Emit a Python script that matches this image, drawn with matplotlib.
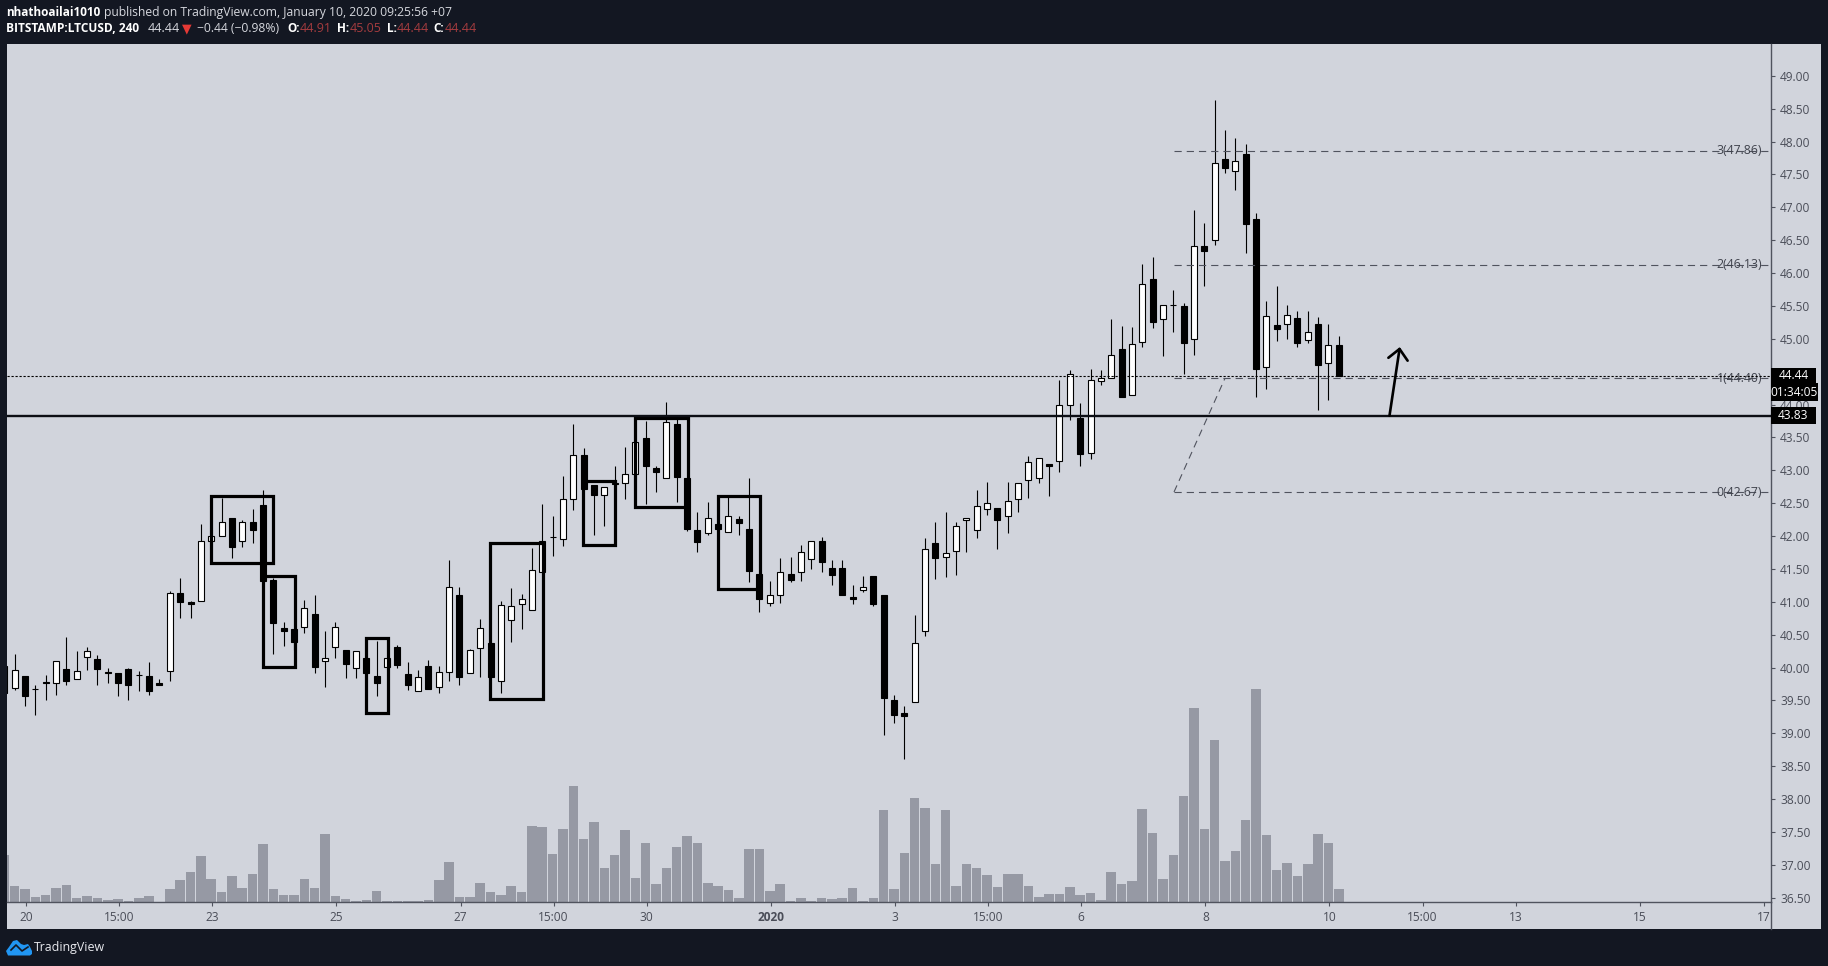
import numpy as np
import matplotlib
matplotlib.use("Agg")
import matplotlib.pyplot as plt
from matplotlib.patches import Rectangle, Polygon

plt.rcParams['font.family'] = ['Open Sans', 'DejaVu Sans']

# 4h candles, first entry is the bar two slots before Dec 20
first_bar = -2
opens = [40.02, 39.69, 39.87, 39.67, 39.78, 39.76, 39.98, 39.82, 40.16, 40.13,
         39.93, 39.92, 39.98, 39.89, 39.87, 39.77, 39.94, 41.13, 41.00, 41.01,
         41.92, 42.00, 42.28, 41.92, 42.21, 42.47, 41.33, 40.60, 40.59, 40.61,
         40.82, 40.10, 40.32, 40.26, 40.00, 40.14, 39.87, 40.01, 40.31, 39.90,
         39.64, 40.02, 39.71, 39.93, 41.10, 39.91, 40.29, 40.37, 39.79, 40.73,
         40.96, 40.88, 41.46, 41.98, 41.95, 42.57, 43.24, 42.77, 42.62, 42.81,
         42.80, 42.94, 43.49, 43.03, 42.88, 43.70, 42.88, 42.09, 42.05, 42.18,
         42.06, 42.26, 42.10, 41.42, 40.98, 41.10, 41.43, 41.46, 41.65, 41.92,
         41.51, 41.51, 41.08, 41.18, 41.39, 41.10, 39.51, 39.31, 39.47, 40.55,
         41.90, 41.68, 41.77, 42.24, 42.09, 42.41, 42.42, 42.30, 42.56, 42.85,
         42.88, 43.10, 43.14, 43.99, 43.80, 43.26, 44.36, 44.41, 44.85, 44.14,
         44.95, 45.91, 45.30, 45.51, 45.50, 44.99, 46.41, 46.51, 47.73, 47.55,
         47.81, 46.82, 44.57, 45.21, 45.22, 45.31, 44.98, 45.23, 44.63, 44.91]
highs = [40.02, 40.21, 39.87, 39.73, 39.89, 40.10, 40.47, 40.25, 40.31, 40.19,
         40.00, 39.92, 39.99, 39.94, 40.09, 39.82, 41.16, 41.36, 41.01, 42.18,
         42.00, 42.58, 42.28, 42.25, 42.41, 42.70, 41.36, 40.69, 40.59, 41.02,
         41.10, 40.56, 40.69, 40.26, 40.25, 40.14, 40.40, 40.14, 40.35, 40.09,
         39.97, 40.11, 40.02, 41.63, 41.23, 40.28, 40.74, 40.37, 41.01, 41.21,
         41.12, 41.82, 42.49, 42.30, 42.91, 43.70, 43.34, 42.77, 42.74, 43.07,
         43.35, 43.43, 43.75, 43.06, 44.04, 43.78, 42.88, 42.36, 42.52, 42.18,
         42.60, 42.30, 42.88, 41.42, 41.32, 41.66, 41.68, 41.86, 41.92, 41.98,
         41.63, 41.63, 41.25, 41.39, 41.39, 41.10, 39.58, 39.42, 40.80, 41.97,
         42.21, 42.36, 42.21, 42.27, 42.70, 42.82, 42.42, 42.82, 42.80, 43.22,
         43.18, 43.10, 44.37, 44.52, 44.02, 44.54, 44.53, 45.30, 45.20, 45.18,
         46.14, 46.24, 45.51, 45.74, 45.54, 46.96, 46.76, 48.63, 48.18, 48.05,
         47.96, 46.91, 45.57, 45.80, 45.51, 45.42, 45.42, 45.33, 45.23, 45.05]
lows = [39.61, 39.66, 39.41, 39.28, 39.50, 39.59, 39.74, 39.82, 39.96, 39.74,
        39.76, 39.56, 39.51, 39.64, 39.59, 39.74, 39.80, 40.76, 40.76, 41.01,
        41.92, 42.00, 41.67, 41.84, 41.89, 41.31, 40.20, 40.33, 40.27, 40.52,
        39.92, 39.71, 40.15, 39.84, 39.84, 39.92, 39.57, 40.01, 40.00, 39.66,
        39.64, 39.68, 39.62, 39.79, 39.73, 39.91, 39.86, 39.86, 39.62, 40.39,
        40.59, 40.87, 41.46, 41.70, 41.85, 42.40, 42.71, 42.02, 42.15, 42.79,
        42.56, 42.94, 42.48, 42.67, 42.88, 42.52, 42.07, 41.76, 42.02, 42.11,
        42.06, 42.02, 41.30, 40.85, 40.94, 40.98, 41.30, 41.32, 41.50, 41.46,
        41.25, 41.11, 40.97, 41.15, 40.93, 38.98, 39.15, 38.61, 39.47, 40.48,
        41.34, 41.37, 41.40, 41.75, 41.97, 42.32, 41.81, 42.04, 42.37, 42.58,
        42.80, 42.61, 42.98, 43.77, 43.07, 43.17, 44.29, 44.41, 44.12, 44.14,
        44.87, 45.17, 44.74, 45.11, 44.46, 44.76, 45.81, 46.42, 47.52, 47.27,
        46.31, 44.12, 44.24, 44.96, 44.99, 44.88, 44.93, 43.91, 44.07, 44.44]
closes = [39.61, 39.96, 39.56, 39.67, 39.76, 40.10, 39.80, 39.94, 40.25, 39.98,
          39.91, 39.77, 39.73, 39.89, 39.65, 39.74, 41.13, 40.99, 40.96, 41.92,
          42.00, 42.21, 41.84, 42.22, 42.09, 41.31, 40.67, 40.56, 40.39, 40.90,
          40.01, 40.14, 40.61, 40.06, 40.25, 39.92, 39.77, 40.14, 40.04, 39.73,
          39.85, 39.68, 39.93, 41.23, 39.85, 40.26, 40.60, 39.86, 40.95, 40.93,
          41.04, 41.48, 41.93, 41.98, 42.57, 43.23, 42.71, 42.63, 42.74, 42.79,
          42.94, 43.43, 43.07, 42.98, 43.73, 42.90, 42.10, 41.91, 42.27, 42.11,
          42.30, 42.20, 41.47, 41.05, 41.10, 41.46, 41.33, 41.75, 41.92, 41.60,
          41.40, 41.11, 41.05, 41.23, 40.97, 39.54, 39.28, 39.26, 40.37, 41.81,
          41.67, 41.74, 42.16, 42.27, 42.45, 42.50, 42.25, 42.54, 42.80, 43.12,
          43.18, 43.07, 43.99, 44.46, 43.25, 44.37, 44.41, 44.75, 44.12, 44.92,
          45.84, 45.26, 45.51, 45.51, 44.93, 46.41, 46.34, 47.68, 47.60, 47.71,
          46.74, 44.54, 45.34, 45.15, 45.36, 44.94, 45.10, 44.60, 44.90, 44.44]
volumes = [142, 49, 40, 16, 22, 43, 52, 13, 19, 13, 7, 10, 4, 13, 19, 1, 40, 67, 91, 139,
           70, 31, 79, 43, 85, 175, 40, 22, 22, 70, 43, 205, 19, 10, 4, 7, 34, 4, 4, 4,
           4, 7, 67, 121, 16, 16, 58, 31, 22, 49, 31, 229, 226, 145, 220, 349, 190, 241, 103, 142,
           217, 73, 178, 55, 103, 166, 199, 178, 58, 49, 37, 13, 160, 160, 34, 55, 4, 13, 4, 13,
           10, 13, 43, 4, 13, 277, 40, 148, 313, 283, 115, 277, 49, 115, 103, 82, 46, 85, 85, 49,
           16, 25, 25, 46, 22, 28, 7, 91, 55, 64, 280, 208, 70, 142, 319, 583, 220, 487, 124, 154,
           247, 640, 202, 97, 118, 79, 115, 205, 178, 40]

price_ticks = np.arange(36.5, 49.01, 0.5)
time_ticks = [0, 9, 18, 30, 42, 51, 60, 72, 84, 93, 102, 114, 126, 135, 144, 156, 168]
time_labels = ['20', '15:00', '23', '25', '27', '15:00', '30', '2020', '3', '15:00',
               '6', '8', '10', '15:00', '13', '15', '17']

# hand drawn boxes around the consolidation zones
box_left = [18.0, 23.04, 32.96, 44.98, 53.97, 59.0, 66.99]
box_right = [24.0, 26.1, 35.09, 50.07, 57.03, 64.06, 71.05]
box_top = [42.61, 41.39, 40.45, 41.89, 42.84, 43.79, 42.61]
box_bottom = [41.59, 40.01, 39.31, 39.52, 41.87, 42.44, 41.19]

# trend based fib extension
fib_levels = [47.86, 46.13, 44.40, 42.67]
fib_names = ['3', '2', '1', '0']
fib_start = 111.07
fib_anchor = 116

support = 43.83
last_price = 44.44

W, H = 1828, 966
DARK = '#131722'
PANE = '#d1d4dc'
AXIS = '#50535e'
TEXT = '#4a4d58'
RED = '#a53c3f'

fig = plt.figure(figsize=(W / 100, H / 100), dpi=100, facecolor=DARK)

# overlay in plain pixels for the page furniture
bg = fig.add_axes([0, 0, 1, 1], zorder=-1)
bg.set_xlim(0, W)
bg.set_ylim(H, 0)
bg.axis('off')
bg.add_patch(Rectangle((6.5, 44), 1814.5, 885, fc=PANE, ec='none'))

top = fig.add_axes([0, 0, 1, 1], zorder=5)
top.set_xlim(0, W)
top.set_ylim(H, 0)
top.axis('off')
top.patch.set_alpha(0)

rect = [6.5 / W, (H - 902) / H, 1764.5 / W, 858 / H]
xlim = (-1.79, 168.78)

ax_vol = fig.add_axes(rect, zorder=1)
ax_vol.patch.set_alpha(0)
ax_vol.set_xlim(*xlim)
ax_vol.set_ylim(0, 2574)
ax_vol.axis('off')

ax = fig.add_axes(rect, zorder=2)
ax.patch.set_alpha(0)
ax.set_xlim(*xlim)
ax.set_ylim(36.434, 49.484)

bars = np.arange(first_bar, first_bar + len(opens))
o = np.array(opens)
h = np.array(highs)
l = np.array(lows)
c = np.array(closes)

ax_vol.bar(bars, volumes, width=0.92, color='#9699a4', linewidth=0)

ax.vlines(bars, l, h, colors='black', linewidth=0.8, zorder=2)
fills = ['white' if cl > op else 'black' for op, cl in zip(o, c)]
ax.bar(bars, np.abs(c - o), bottom=np.minimum(o, c), width=0.58, color=fills,
       edgecolor='black', linewidth=0.8, zorder=3)

for x0, x1, y1, y0 in zip(box_left, box_right, box_top, box_bottom):
    ax.add_patch(Rectangle((x0, y0), x1 - x0, y1 - y0, fc='none', ec='black',
                           lw=2.3, joinstyle='miter', zorder=4))

# fib levels and the dashed trend leg
for level, name in zip(fib_levels, fib_names):
    ax.hlines(level, fib_start, xlim[1], colors=AXIS, linewidth=0.8,
              linestyles=[(0, (6.5, 4.5))], zorder=3.5)
    ax.text(167.9, level, f'{name}({level:.2f})', ha='right', va='center',
            fontsize=8.8, color='#3f424c', zorder=5)
ax.plot([fib_start, fib_anchor], [fib_levels[3], fib_levels[2]], color=AXIS, lw=0.8,
        linestyle=(0, (6.5, 4.5)), zorder=3.5)

ax.axhline(last_price, color='black', lw=0.8, linestyle=(0, (2, 1.6)), zorder=5)
ax.axhline(support, color='#0c0e14', lw=1.7, zorder=5)

ax.annotate('', xy=(132.9, 44.875), xytext=(131.9, support),
            arrowprops=dict(arrowstyle='->,head_length=0.75,head_width=0.7', lw=1.9,
                            color='black', shrinkA=0, shrinkB=0, mutation_scale=10),
            zorder=6)

# axes
for side in ['left', 'top']:
    ax.spines[side].set_visible(False)
for side in ['right', 'bottom']:
    ax.spines[side].set_color(AXIS)
    ax.spines[side].set_linewidth(1)
ax.yaxis.tick_right()
ax.set_yticks(price_ticks)
ax.set_yticklabels([f'{p:.2f}' for p in price_ticks])
ax.set_xticks(np.array(time_ticks) + 0.1)
ax.set_xticklabels(time_labels)
ax.tick_params(axis='y', length=3, width=0.8, color=AXIS, labelcolor=TEXT, labelsize=8.6, pad=3.5)
ax.tick_params(axis='x', length=3, width=0.8, color=AXIS, labelcolor=TEXT, labelsize=8.6, pad=3.5)
for lbl in ax.get_xticklabels():
    if lbl.get_text() == '2020':
        lbl.set_fontweight('bold')

top.plot([1771, 1771], [902, 929], color=AXIS, lw=1)

# price tags on the right scale
tag_tf = ax.get_yaxis_transform()
tags = [(last_price, '44.44', 45, 0.122), (44.19, '01:34:05', 47, 0.137), (support, '43.83', 45, 0.13)]
for price, label, width, half in tags:
    ax.add_patch(Rectangle((1.0, price - half), width / 1765, 2 * half, transform=tag_tf,
                           fc='black', ec='none', clip_on=False, zorder=6))
    ax.text(1.0 + 0.5 * width / 1765, price, label, transform=tag_tf, ha='center', va='center',
            color='white', fontsize=8.6, zorder=7, clip_on=False)

WHITE = '#ffffff'
SOFT = '#d6d8de'

# header lines: text, left edge, colour, weight, size
header_y = [12.5, 29]
line_one = [('nhathoailai1010', 6, WHITE, 'bold', 8.5),
            ('published on TradingView.com, January 10, 2020 09:25:56 +07', 104, SOFT, 'normal', 8.75)]
line_two = [('BITSTAMP:LTCUSD, 240', 6, WHITE, 'bold', 8.6),
            ('44.44', 148, SOFT, 'normal', 9),
            ('▼', 182, '#e53935', 'normal', 9),
            ('−0.44 (−0.98%)', 197, SOFT, 'normal', 8.7),
            ('O:', 287, WHITE, 'bold', 8.5),
            ('44.91', 300, RED, 'normal', 9),
            ('H:', 337, WHITE, 'bold', 8.5),
            ('45.05', 350, RED, 'normal', 9),
            ('L:', 387, WHITE, 'bold', 8.5),
            ('44.44', 397, RED, 'normal', 9),
            ('C:', 433, WHITE, 'bold', 8.5),
            ('44.44', 445, RED, 'normal', 9)]
for y, parts in zip(header_y, [line_one, line_two]):
    for label, x, color, weight, size in parts:
        top.text(x, y, label, color=color, fontweight=weight, fontsize=size, ha='left', va='center')

# footer logo
cloud = [(6, 951), (9, 947), (13, 941), (17, 940), (21, 944), (24, 945), (28, 944),
         (30, 947), (32, 951), (32, 954), (30, 955.5), (8, 955.5)]
top.add_patch(Polygon(cloud, closed=True, fc='#2196f3', ec='none'))
top.plot([11, 16, 22, 28], [950, 945, 951, 947], color=DARK, lw=1.2)
top.text(33.5, 947, 'TradingView', color='#e8e9ee', fontsize=8.9, ha='left', va='center')

fig.savefig('out.png', dpi=100, facecolor=DARK)
